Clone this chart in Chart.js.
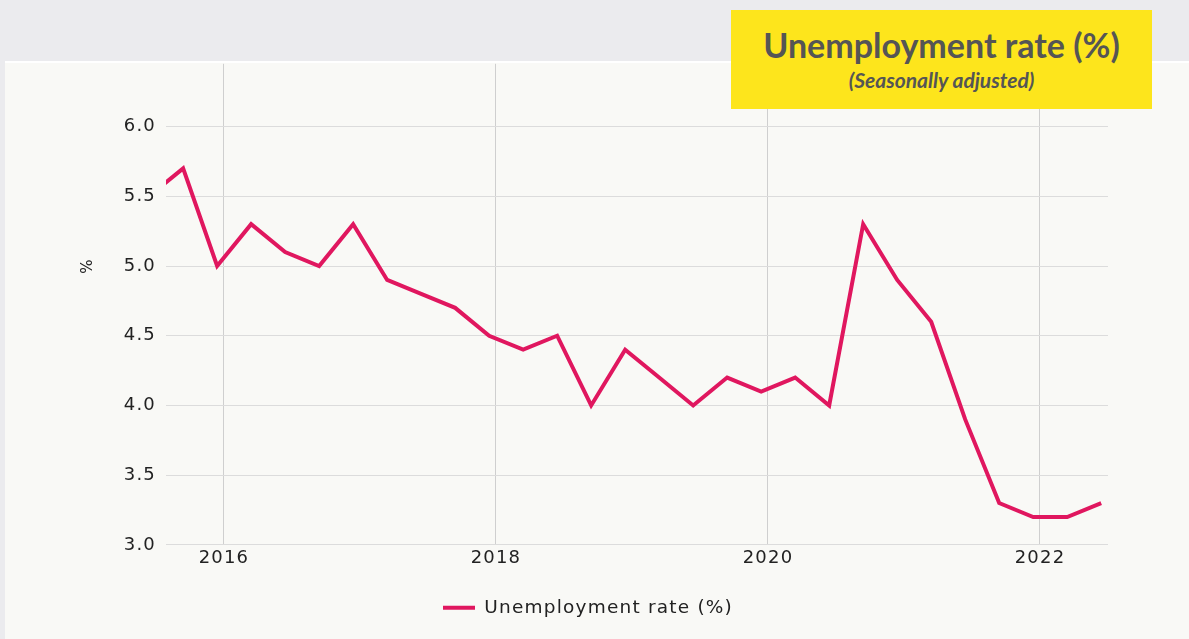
<!DOCTYPE html>
<html>
<head>
<meta charset="utf-8">
<script src="https://cdn.jsdelivr.net/npm/chart.js@4"></script>
<style>
    html, body { margin: 0; padding: 0; }
    body { width: 1189px; height: 639px; background: #ebebee; position: relative; overflow: hidden; }
    #panel { position: absolute; left: 5px; top: 61px; width: 1184px; height: 578px; background: #f9f9f6; border-top: 2px solid #ffffff; box-sizing: border-box; }
    /* canvas pulled up so the plot top lines up with the panel edge */
    #chartBox { position: absolute; left: 0; top: -20px; width: 1184px; height: 596px; }
    #titleBox { position: absolute; left: 731px; top: 10px; width: 421px; height: 99px; background: #fde51c; text-align: center; font-family: Lato, sans-serif; color: #555555; }
    #titleBox .main { font-weight: bold; font-size: 34px; margin-top: 15px; line-height: 40px; }
    #titleBox .sub { font-weight: bold; font-style: italic; font-size: 21px; line-height: 24px; margin-top: 3px; }
</style>
</head>
<body>
<div id="panel">
    <div id="chartBox"><canvas id="rateChart"></canvas></div>
</div>
<div id="titleBox">
    <div class="main">Unemployment rate (%)</div>
    <div class="sub">(Seasonally adjusted)</div>
</div>
<script>
// quarterly readings, placed at mid-month of each quarter's last month (decimal years)
const quarters = [2015.45, 2015.7, 2015.95, 2016.2, 2016.45, 2016.7, 2016.95, 2017.2, 2017.45, 2017.7, 2017.95,
    2018.2, 2018.45, 2018.7, 2018.95, 2019.2, 2019.45, 2019.7, 2019.95, 2020.2, 2020.45, 2020.7, 2020.95,
    2021.2, 2021.45, 2021.7, 2021.95, 2022.2, 2022.45];
const unemploymentRate = [5.5, 5.7, 5.0, 5.3, 5.1, 5.0, 5.3, 4.9, 4.8, 4.7, 4.5,
    4.4, 4.5, 4.0, 4.4, 4.2, 4.0, 4.2, 4.1, 4.2, 4.0, 5.3, 4.9,
    4.6, 3.9, 3.3, 3.2, 3.2, 3.3];
const yearTicks = [2016, 2018, 2020, 2022];
const rateTicks = [3.0, 3.5, 4.0, 4.5, 5.0, 5.5, 6.0];
const yAxisTitle = '%';

const lineColor = '#e0175f';
const tickFont = { family: 'DejaVu Sans', size: 18 };

// the original uses a wide geometric face, so space the letters out a little
const wideText = {
    id: 'wideText',
    beforeLayout: chart => { chart.ctx.letterSpacing = '1.2px'; },
    beforeDraw: chart => { chart.ctx.letterSpacing = '1.2px'; }
};

// the "%" sits level with the 5.0 line in the original, not mid-axis
const yTitle = {
    id: 'yTitle',
    afterDraw: chart => {
        const c = chart.ctx;
        const y = chart.scales.y.getPixelForValue(5.0);
        c.save();
        c.translate(83, y);
        c.rotate(-Math.PI / 2);
        c.font = '15px "DejaVu Sans"';
        c.fillStyle = '#222222';
        c.textAlign = 'center';
        c.textBaseline = 'middle';
        c.fillText(yAxisTitle, 0, 0);
        c.restore();
    }
};

const ctx = document.getElementById('rateChart').getContext('2d');
const chartInstance = new Chart(ctx, {
    type: 'line',
    data: {
        datasets: [{
            label: 'Unemployment rate (%)',
            data: quarters.map((q, i) => ({ x: q, y: unemploymentRate[i] })),
            borderColor: lineColor,
            backgroundColor: lineColor,
            borderWidth: 4,
            pointRadius: 0,
            tension: 0,
            pointStyle: 'line'
        }]
    },
    plugins: [wideText, yTitle],
    options: {
        responsive: true,
        maintainAspectRatio: false,
        animation: false,
        layout: { padding: { top: 2, right: 81, bottom: 12, left: 63 } },
        plugins: {
            legend: {
                position: 'bottom',
                labels: {
                    usePointStyle: true,
                    pointStyleWidth: 32,
                    boxHeight: 4,
                    padding: 26,
                    color: '#222222',
                    font: { family: 'DejaVu Sans', size: 18.5 }
                }
            },
            tooltip: { enabled: false }
        },
        scales: {
            x: {
                type: 'linear',
                min: 2015.574,
                max: 2022.5,
                afterBuildTicks: scale => { scale.ticks = yearTicks.map(v => ({ value: v })); },
                ticks: {
                    color: '#222222',
                    font: tickFont,
                    padding: 3,
                    maxRotation: 0,
                    callback: v => String(v)
                },
                grid: { color: '#cfcfcf', lineWidth: 1, drawTicks: false },
                border: { display: false }
            },
            y: {
                min: 3.0,
                max: 6.45,
                afterBuildTicks: scale => { scale.ticks = rateTicks.map(v => ({ value: v })); },
                afterFit: scale => { scale.width = 98; },
                ticks: {
                    color: '#222222',
                    font: tickFont,
                    padding: 10,
                    callback: v => v.toFixed(1)
                },
                grid: { color: '#dcdcdc', lineWidth: 1, drawTicks: false },
                border: { display: false }
            }
        }
    }
});
</script>
</body>
</html>
